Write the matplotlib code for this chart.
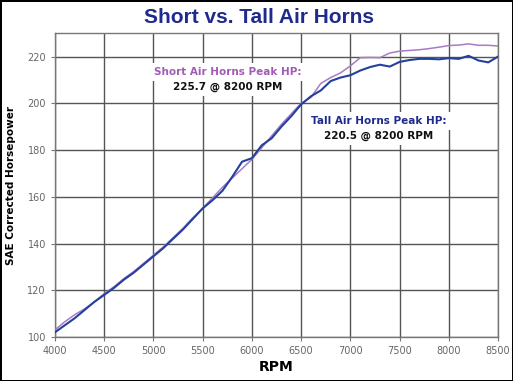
import matplotlib
matplotlib.use("Agg")
import matplotlib.pyplot as plt
from matplotlib.ticker import MultipleLocator

rpm = list(range(4000, 8501, 100))

tall_hp = [102.0, 105.0, 108.0, 111.5, 115.0, 118.0, 121.0, 124.5, 127.5, 131.0,
           134.5, 138.0, 142.0, 146.0, 150.5, 155.0, 158.5, 162.5, 168.5, 175.0,
           176.5, 182.0, 185.0, 190.0, 194.5, 199.5, 203.0, 205.5, 209.5, 211.0,
           212.0, 214.0, 215.5, 216.5, 215.7, 217.7, 218.5, 219.0, 219.0, 218.8,
           219.3, 219.0, 220.3, 218.3, 217.5, 220.0]

short_hp = [103.0, 106.5, 109.5, 112.0, 115.0, 118.5, 121.5, 125.0, 128.0, 131.5,
            135.0, 138.5, 142.5, 146.5, 151.0, 155.0, 159.5, 164.0, 168.0, 172.0,
            176.0, 181.0, 186.0, 191.0, 195.5, 200.0, 202.5, 208.5, 211.0, 213.0,
            216.0, 219.5, 219.6, 219.5, 221.5, 222.3, 222.6, 222.9, 223.4, 224.0,
            224.7, 224.9, 225.4, 224.8, 224.8, 224.5]

title = "Short vs. Tall Air Horns"
short_label = "Short Air Horns Peak HP:"
short_peak = "225.7 @ 8200 RPM"
tall_label = "Tall Air Horns Peak HP:"
tall_peak = "220.5 @ 8200 RPM"

fam = ["DejaVu Sans"]
grid_c = "#555555"
purple = "#a77bc6"
blue = "#23409c"

fig = plt.figure(figsize=(5.13, 3.81), dpi=100, linewidth=2.0, edgecolor="black")
ax = fig.add_axes([0.107, 0.1155, 0.864, 0.7975])

ax.plot(rpm, short_hp, color=purple, lw=1.1, zorder=3)
ax.plot(rpm, tall_hp, color=blue, lw=1.5, zorder=4)

ax.set_xlim(4000, 8500)
ax.set_ylim(100, 230)
ax.xaxis.set_major_locator(MultipleLocator(500))
ax.set_yticks(range(100, 221, 20))
ax.grid(True, color=grid_c, lw=1.0, zorder=1)
for s in ax.spines.values():
    s.set_color("#777777")
    s.set_linewidth(1.0)
ax.tick_params(colors="#777777", labelsize=7, length=3, width=0.8)
for lab in ax.get_xticklabels() + ax.get_yticklabels():
    lab.set_color("#666666")

ax.set_xlabel("RPM", fontsize=10, fontweight="bold", family=fam, labelpad=3)
ax.set_ylabel("SAE Corrected Horsepower", fontsize=7.5, fontweight="bold",
              family=fam)
ax.yaxis.set_label_coords(-0.088, 0.5)

fig.text(0.505, 0.955, title, ha="center", va="center", fontsize=15,
         fontweight="heavy", color="#1e2a8e", family=["Liberation Sans", "DejaVu Sans"])

box = dict(facecolor="white", edgecolor="none", pad=3)
ax.text(5757, 213.5, short_label, ha="center", va="center", fontsize=7.5,
        fontweight="bold", color="#a35cb3", family=fam, bbox=box, zorder=5)
ax.text(5757, 207.2, short_peak, ha="center", va="center", fontsize=7.5,
        fontweight="bold", color="#111111", family=fam, bbox=box, zorder=6)
ax.text(7290, 192.5, tall_label, ha="center", va="center", fontsize=7.5,
        fontweight="bold", color="#1e2a8e", family=fam, bbox=box, zorder=5)
ax.text(7290, 186.2, tall_peak, ha="center", va="center", fontsize=7.5,
        fontweight="bold", color="#111111", family=fam, bbox=box, zorder=6)

fig.savefig("out.png", dpi=100, edgecolor=fig.get_edgecolor())
